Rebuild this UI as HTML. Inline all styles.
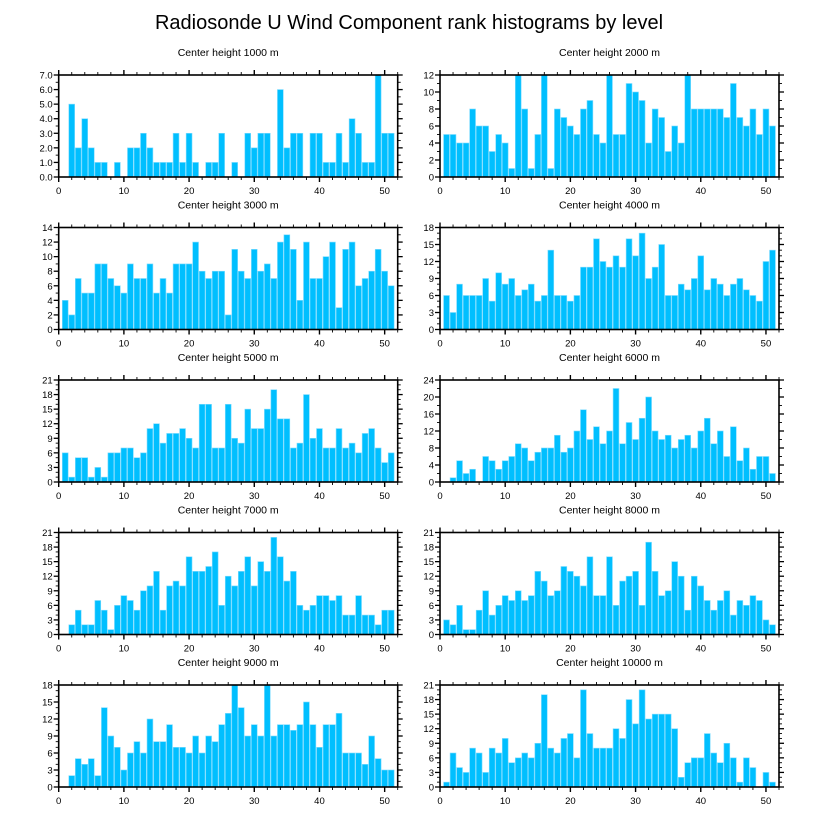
<!DOCTYPE html>
<html><head><meta charset="utf-8"><style>
html,body{margin:0;padding:0;background:#fff;}
svg{display:block;font-family:"Liberation Sans",sans-serif;}
</style></head><body>
<svg id="chart" width="818" height="824">
<text x="409" y="29" text-anchor="middle" font-size="20">Radiosonde U Wind Component rank histograms by level</text>
</svg>
<script>
const levels = ["1000","2000","3000","4000","5000","6000","7000","8000","9000","10000"];
const yMaxes = [7,12,14,18,21,24,21,21,18,21];
const yStepsMajor = [1,2,2,3,3,4,3,3,3,3];
const counts1000 = [0,5,2,4,2,1,1,0,1,0,2,2,3,2,1,1,1,3,1,3,1,0,1,1,3,0,1,0,3,2,3,3,0,6,2,3,3,0,3,3,1,1,3,1,4,3,1,1,7,3,3];
const counts2000 = [5,5,4,4,8,6,6,3,5,4,1,12,8,1,5,12,1,8,7,6,5,8,9,5,4,12,5,5,11,10,9,4,8,7,3,6,4,12,8,8,8,8,8,7,11,7,6,8,5,8,6];
const counts3000 = [4,2,7,5,5,9,9,7,6,5,9,7,7,9,5,7,5,9,9,9,12,8,7,8,8,2,11,8,7,11,8,9,7,12,13,11,4,12,7,7,10,12,3,11,12,6,7,8,11,8,6];
const counts4000 = [6,3,8,6,6,6,9,5,10,8,9,6,7,8,5,6,14,6,6,5,6,11,11,16,12,11,13,11,16,13,17,9,11,15,6,6,8,7,9,13,7,9,8,6,8,9,7,6,5,12,14];
const counts5000 = [6,1,5,5,1,3,1,6,6,7,7,5,6,11,12,8,10,10,11,9,7,16,16,7,7,16,9,8,15,11,11,15,19,13,13,7,8,18,9,11,7,7,11,7,8,6,10,11,7,4,6];
const counts6000 = [0,1,5,2,3,0,6,5,3,5,6,9,8,5,7,8,8,11,7,8,12,17,10,13,9,12,22,9,14,10,15,20,12,10,11,8,10,11,8,12,15,9,12,6,13,5,8,3,6,6,2];
const counts7000 = [0,2,5,2,2,7,5,1,6,8,7,5,9,10,13,5,10,11,10,16,13,13,14,17,6,12,10,13,16,10,15,13,20,16,11,13,6,5,6,8,8,7,8,4,4,8,4,4,2,5,5];
const counts8000 = [3,2,6,1,1,5,9,4,6,8,7,9,7,8,13,11,8,9,14,13,12,10,16,8,8,16,6,11,12,13,6,19,13,8,9,15,12,5,12,10,7,5,7,9,4,7,6,8,7,3,2];
const counts9000 = [0,2,5,4,5,2,14,9,7,3,6,8,6,12,8,8,11,7,7,6,9,6,9,8,11,13,18,14,9,11,9,18,9,11,11,10,11,15,11,7,11,11,13,6,6,6,4,9,5,3,3];
const counts10000 = [1,7,4,3,8,7,3,8,7,10,5,6,7,6,9,19,8,7,10,11,6,20,11,8,8,8,12,10,18,13,20,14,15,15,15,12,2,5,6,6,11,7,5,9,6,1,6,4,0,3,1];
const allCounts = [counts1000,counts2000,counts3000,counts4000,counts5000,counts6000,counts7000,counts8000,counts9000,counts10000];
const xTicks = [0,10,20,30,40,50];

const NS = "http://www.w3.org/2000/svg";
const svg = document.getElementById("chart");
function mk(tag, attrs, parent){
  const e = document.createElementNS(NS, tag);
  for (const k in attrs) e.setAttribute(k, attrs[k]);
  (parent||svg).appendChild(e);
  return e;
}
const XMIN = 0, XMAX = 52;
const PW = 339, PH = 102;
const lefts = [58.7, 440];
for (let p = 0; p < 10; p++) {
  const col = p % 2, row = Math.floor(p / 2);
  const L = lefts[col], T = 75 + row * 152.5;
  const yMax = yMaxes[p], step = yStepsMajor[p];
  const xS = v => L + (v - XMIN) / (XMAX - XMIN) * PW;
  const yS = v => T + PH - v / yMax * PH;
  const g = mk("g", {});
  
  
  const title = mk("text", {x: L + PW/2, y: T - 19, "text-anchor":"middle", "font-size":"10.5"}, g);
  
  
  title.textContent = "Center height " + levels[p] + " m";
  // bars
  const data = allCounts[p];
  for (let i = 0; i < data.length; i++) {
    const bin = i + 1;
    if (data[i] <= 0) continue;
    const x0 = xS(bin - 0.45), x1 = xS(bin + 0.45);
    const r = mk("rect", {x: x0, y: yS(data[i]), width: x1 - x0, height: yS(0) - yS(data[i]), fill:"#00bfff", stroke:"#7fdcff", "stroke-width":"0.6"}, g);
    
    
  }
  // frame
  const fr = mk("rect", {x: L, y: T, width: PW, height: PH, fill:"none", stroke:"#000", "stroke-width":"1.6"}, g);
  
  
  // x ticks
  for (let v = 0; v <= XMAX; v += 2) {
    const major = v % 10 === 0;
    const len = major ? 5 : 3;
    const x = xS(v);
    mk("line", {x1:x, x2:x, y1:T+PH, y2:T+PH+len, stroke:"#000", "stroke-width": major?1.4:0.9}, g);
    mk("line", {x1:x, x2:x, y1:T, y2:T-len, stroke:"#000", "stroke-width": major?1.4:0.9}, g);
  }
  xTicks.forEach(v => {
    const t = mk("text", {x: xS(v), y: T+PH+17, "text-anchor":"middle", "font-size":"9.5"}, g);
    
    
    t.textContent = v;
  });
  // y ticks
  const minor = step / (step === 3 ? 3 : 2);
  for (let v = 0; v <= yMax + 1e-9; v += minor) {
    const major = Math.abs(v / step - Math.round(v / step)) < 1e-6;
    const len = major ? 5 : 3;
    const y = yS(v);
    mk("line", {x1:L, x2:L-len, y1:y, y2:y, stroke:"#000", "stroke-width": major?1.3:0.9}, g);
    mk("line", {x1:L+PW, x2:L+PW+len, y1:y, y2:y, stroke:"#000", "stroke-width": major?1.3:0.9}, g);
  }
  for (let v = 0; v <= yMax + 1e-9; v += step) {
    const t = mk("text", {x: L-6, y: yS(v)+3.5, "text-anchor":"end", "font-size":"9.5"}, g);
    
    
    t.textContent = p === 0 ? v.toFixed(1) : v;
  }
}
</script>
</body></html>
